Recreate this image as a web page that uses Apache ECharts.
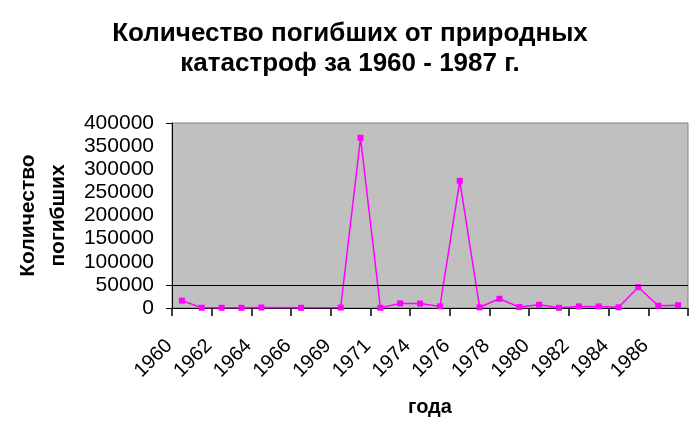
<!DOCTYPE html>
<html>
<head>
<meta charset="utf-8">
<script src="https://cdn.jsdelivr.net/npm/echarts@6/dist/echarts.min.js"></script>
<style>html,body{margin:0;padding:0;background:#fff}#c{width:700px;height:435px}</style>
</head>
<body>
<div id="c"></div>
<script>
const titleText = 'Количество погибших от природных\nкатастроф за 1960 - 1987 г.';
const yAxisName = 'Количество\nпогибших';
const xAxisName = 'года';
const years = ['1960','1961','1962','1963','1964','1965','1966','1967','1969','1970','1971','1972','1974','1975','1976','1977','1978','1979','1980','1981','1982','1983','1984','1985','1986','1987'];
const deaths = [16000,500,500,500,1000,null,500,null,1000,368000,500,10000,9500,3500,275000,1500,20000,2000,7000,500,3500,3500,1500,45000,5000,6000];
const yTicks = [0, 50000, 400000];
const refLine = 50000;

const chart = echarts.init(document.getElementById('c'), null, {renderer:'canvas'});
const font = '"Liberation Sans", Arial, sans-serif';
chart.setOption({
  animation:false,
  backgroundColor:'#ffffff',
  title:{
    text:titleText, left:'center', top:14,
    textStyle:{fontFamily:font, fontWeight:'bold', fontSize:26, color:'#000', lineHeight:30}
  },
  grid:{left:172, right:12, top:123, bottom:127, containLabel:false, outerBoundsMode:'none',
    show:true, backgroundColor:'#c0c0c0', borderColor:'#808080', borderWidth:1},
  xAxis:{
    type:'category', data:years, boundaryGap:true,
    name:xAxisName, nameLocation:'middle', nameGap:89,
    nameTextStyle:{fontFamily:font, fontWeight:'bold', fontSize:20, color:'#000'},
    axisLine:{show:true, onZero:false, lineStyle:{color:'#000', width:1}},
    axisTick:{show:true, inside:false, length:8, lineStyle:{color:'#000', width:1.5}},
    axisLabel:{interval:1, rotate:45, margin:22, padding:[0,18,0,0], fontFamily:font, fontSize:20, color:'#000'},
    splitLine:{show:false}
  },
  yAxis:{
    type:'value', min:0, max:400000, interval:50000,
    name:yAxisName, nameLocation:'middle', nameGap:98,
    nameTextStyle:{fontFamily:font, fontWeight:'bold', fontSize:21, color:'#000', lineHeight:30},
    axisLine:{show:true, lineStyle:{color:'#000', width:1}},
    axisTick:{show:true, length:6, customValues:yTicks, lineStyle:{color:'#000'}},
    axisLabel:{margin:18, fontFamily:font, fontSize:21, color:'#000', formatter:function(v){return String(v);}},
    splitLine:{show:false}
  },
  series:[{
    type:'line', data:deaths, connectNulls:true,
    symbol:'rect', symbolSize:6, showAllSymbol:true,
    lineStyle:{color:'#ff00ff', width:1.5},
    itemStyle:{color:'#ff00ff'},
    markLine:{silent:true, symbol:'none', label:{show:false},
      lineStyle:{color:'#000', type:'solid', width:1},
      data:[{yAxis:refLine}]}
  }]
});
</script>
</body>
</html>
